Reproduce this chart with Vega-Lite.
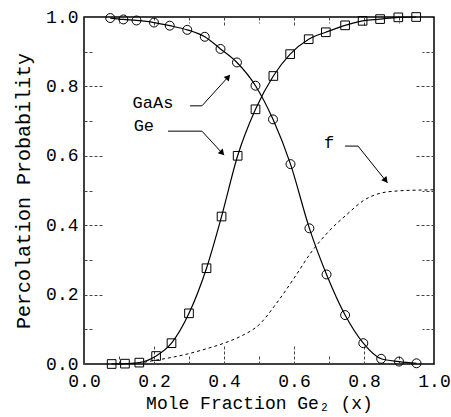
{
  "$schema": "https://vega.github.io/schema/vega-lite/v6.json",
  "width": 350,
  "height": 347,
  "autosize": "none",
  "padding": {"left": 84, "top": 17, "right": 17, "bottom": 53},
  "background": "white",
  "config": {
    "view": {"stroke": "black", "strokeWidth": 1.5},
    "font": "Liberation Mono",
    "axis": {"domain": false, "grid": false, "labelFont": "Liberation Mono", "titleFont": "Liberation Mono", "labelColor": "black", "titleColor": "black", "titleFontWeight": "normal", "tickColor": "#444", "tickDash": [3, 2], "tickWidth": 1}
  },
  "datasets": {
    "gaas": [
      {"x": 0.075, "y": 0.997}, {"x": 0.1125, "y": 0.993}, {"x": 0.15, "y": 0.99}, {"x": 0.2, "y": 0.984},
      {"x": 0.245, "y": 0.975}, {"x": 0.295, "y": 0.963}, {"x": 0.345, "y": 0.943}, {"x": 0.39, "y": 0.908},
      {"x": 0.437, "y": 0.869}, {"x": 0.49, "y": 0.802}, {"x": 0.54, "y": 0.705}, {"x": 0.59, "y": 0.576},
      {"x": 0.644, "y": 0.391}, {"x": 0.693, "y": 0.258}, {"x": 0.746, "y": 0.141}, {"x": 0.798, "y": 0.06},
      {"x": 0.849, "y": 0.015}, {"x": 0.9, "y": 0.007}, {"x": 0.95, "y": 0.002}
    ],
    "ge": [
      {"x": 0.079, "y": 0.0}, {"x": 0.117, "y": 0.001}, {"x": 0.158, "y": 0.004}, {"x": 0.206, "y": 0.023},
      {"x": 0.25, "y": 0.06}, {"x": 0.3, "y": 0.146}, {"x": 0.35, "y": 0.276}, {"x": 0.393, "y": 0.425},
      {"x": 0.439, "y": 0.6}, {"x": 0.49, "y": 0.734}, {"x": 0.541, "y": 0.83}, {"x": 0.589, "y": 0.893},
      {"x": 0.642, "y": 0.936}, {"x": 0.691, "y": 0.956}, {"x": 0.746, "y": 0.976}, {"x": 0.796, "y": 0.989},
      {"x": 0.846, "y": 0.994}, {"x": 0.898, "y": 0.999}, {"x": 0.949, "y": 1.0}
    ],
    "f": [
      {"x": 0.172, "y": 0.005}, {"x": 0.2, "y": 0.01}, {"x": 0.25, "y": 0.019}, {"x": 0.3, "y": 0.03},
      {"x": 0.35, "y": 0.044}, {"x": 0.4, "y": 0.06}, {"x": 0.45, "y": 0.081}, {"x": 0.5, "y": 0.113},
      {"x": 0.55, "y": 0.175}, {"x": 0.6, "y": 0.247}, {"x": 0.65, "y": 0.323}, {"x": 0.7, "y": 0.383},
      {"x": 0.75, "y": 0.43}, {"x": 0.8, "y": 0.472}, {"x": 0.85, "y": 0.493}, {"x": 0.9, "y": 0.499},
      {"x": 0.95, "y": 0.501}, {"x": 1.0, "y": 0.502}
    ],
    "leaders": [
      {"name": "GaAs", "x": 0.303, "y": 0.744, "x2": 0.337, "y2": 0.744},
      {"name": "GaAs", "x": 0.337, "y": 0.744, "x2": 0.417, "y2": 0.833},
      {"name": "Ge", "x": 0.24, "y": 0.671, "x2": 0.337, "y2": 0.671},
      {"name": "Ge", "x": 0.337, "y": 0.671, "x2": 0.4, "y2": 0.602},
      {"name": "f", "x": 0.746, "y": 0.628, "x2": 0.783, "y2": 0.628},
      {"name": "f", "x": 0.783, "y": 0.628, "x2": 0.867, "y2": 0.522}
    ],
    "tips": [
      {"name": "GaAs", "x": 0.412, "y": 0.827},
      {"name": "Ge", "x": 0.395, "y": 0.608},
      {"name": "f", "x": 0.862, "y": 0.529}
    ],
    "labels": [
      {"label": "GaAs", "x": 0.197, "y": 0.752},
      {"label": "Ge", "x": 0.171, "y": 0.686},
      {"label": "f", "x": 0.70, "y": 0.637}
    ]
  },
  "resolve": {"axis": {"x": "independent", "y": "independent"}},
  "layer": [
    {
      "data": {"name": "gaas"},
      "mark": {"type": "line", "color": "black", "strokeWidth": 1.2, "interpolate": "monotone"},
      "encoding": {
        "x": {"field": "x", "type": "quantitative", "scale": {"domain": [0, 1], "nice": false, "zero": false},
          "axis": {"orient": "bottom", "values": [0, 0.2, 0.4, 0.6, 0.8, 1.0], "format": ".1f", "tickSize": -20, "labelFontSize": 18, "labelPadding": 28, "title": "Mole Fraction Ge₂ (x)", "titleFontSize": 18, "titlePadding": 4, "labelFlush": false}},
        "y": {"field": "y", "type": "quantitative", "scale": {"domain": [0, 1], "nice": false, "zero": false},
          "axis": {"orient": "left", "values": [0, 0.2, 0.4, 0.6, 0.8, 1.0], "format": ".1f", "tickSize": -20, "labelFontSize": 18, "labelPadding": 26, "title": "Percolation Probability", "titleFontSize": 20, "titlePadding": 12, "labelFlush": false}}
      }
    },
    {
      "data": {"name": "gaas"},
      "mark": {"type": "point", "shape": "circle", "filled": false, "color": "black", "strokeWidth": 1, "size": 80, "opacity": 1},
      "encoding": {
        "x": {"field": "x", "type": "quantitative", "axis": {"orient": "bottom", "values": [0.1, 0.3, 0.5, 0.7, 0.9], "labels": false, "tickSize": -10, "title": null}},
        "y": {"field": "y", "type": "quantitative", "axis": {"orient": "left", "values": [0.1, 0.3, 0.5, 0.7, 0.9], "labels": false, "tickSize": -10, "title": null}}
      }
    },
    {
      "data": {"name": "ge"},
      "mark": {"type": "line", "color": "black", "strokeWidth": 1.2, "interpolate": "monotone"},
      "encoding": {
        "x": {"field": "x", "type": "quantitative", "axis": {"orient": "top", "values": [0.2, 0.4, 0.6, 0.8], "labels": false, "tickSize": -8, "title": null}},
        "y": {"field": "y", "type": "quantitative", "axis": {"orient": "right", "values": [0.2, 0.4, 0.6, 0.8], "labels": false, "tickSize": -20, "title": null}}
      }
    },
    {
      "data": {"name": "ge"},
      "mark": {"type": "point", "shape": "square", "filled": false, "color": "black", "strokeWidth": 1, "size": 75, "opacity": 1},
      "encoding": {
        "x": {"field": "x", "type": "quantitative", "axis": {"orient": "top", "values": [0.1, 0.3, 0.5, 0.7, 0.9], "labels": false, "tickSize": -6, "title": null}},
        "y": {"field": "y", "type": "quantitative", "axis": {"orient": "right", "values": [0.1, 0.3, 0.5, 0.7, 0.9], "labels": false, "tickSize": -12, "title": null}}
      }
    },
    {
      "data": {"name": "f"},
      "mark": {"type": "line", "color": "black", "strokeWidth": 1, "strokeDash": [3, 3], "interpolate": "monotone"},
      "encoding": {
        "x": {"field": "x", "type": "quantitative", "axis": null},
        "y": {"field": "y", "type": "quantitative", "axis": null}
      }
    },
    {
      "data": {"name": "leaders"},
      "mark": {"type": "rule", "color": "black", "strokeWidth": 1},
      "encoding": {
        "x": {"field": "x", "type": "quantitative", "axis": null},
        "y": {"field": "y", "type": "quantitative", "axis": null},
        "x2": {"field": "x2"},
        "y2": {"field": "y2"}
      }
    },
    {
      "data": {"name": "tips"},
      "transform": [{"filter": "datum.name === 'GaAs'"}],
      "mark": {"type": "point", "shape": "triangle-up", "filled": true, "color": "black", "size": 45, "angle": 42, "opacity": 1},
      "encoding": {
        "x": {"field": "x", "type": "quantitative", "axis": null},
        "y": {"field": "y", "type": "quantitative", "axis": null}
      }
    },
    {
      "data": {"name": "tips"},
      "transform": [{"filter": "datum.name === 'Ge'"}],
      "mark": {"type": "point", "shape": "triangle-up", "filled": true, "color": "black", "size": 45, "angle": 137, "opacity": 1},
      "encoding": {
        "x": {"field": "x", "type": "quantitative", "axis": null},
        "y": {"field": "y", "type": "quantitative", "axis": null}
      }
    },
    {
      "data": {"name": "tips"},
      "transform": [{"filter": "datum.name === 'f'"}],
      "mark": {"type": "point", "shape": "triangle-up", "filled": true, "color": "black", "size": 45, "angle": 141, "opacity": 1},
      "encoding": {
        "x": {"field": "x", "type": "quantitative", "axis": null},
        "y": {"field": "y", "type": "quantitative", "axis": null}
      }
    },
    {
      "data": {"name": "labels"},
      "mark": {"type": "text", "font": "Liberation Mono", "fontSize": 17, "color": "black", "align": "center", "baseline": "middle"},
      "encoding": {
        "x": {"field": "x", "type": "quantitative", "axis": null},
        "y": {"field": "y", "type": "quantitative", "axis": null},
        "text": {"field": "label"}
      }
    }
  ]
}
